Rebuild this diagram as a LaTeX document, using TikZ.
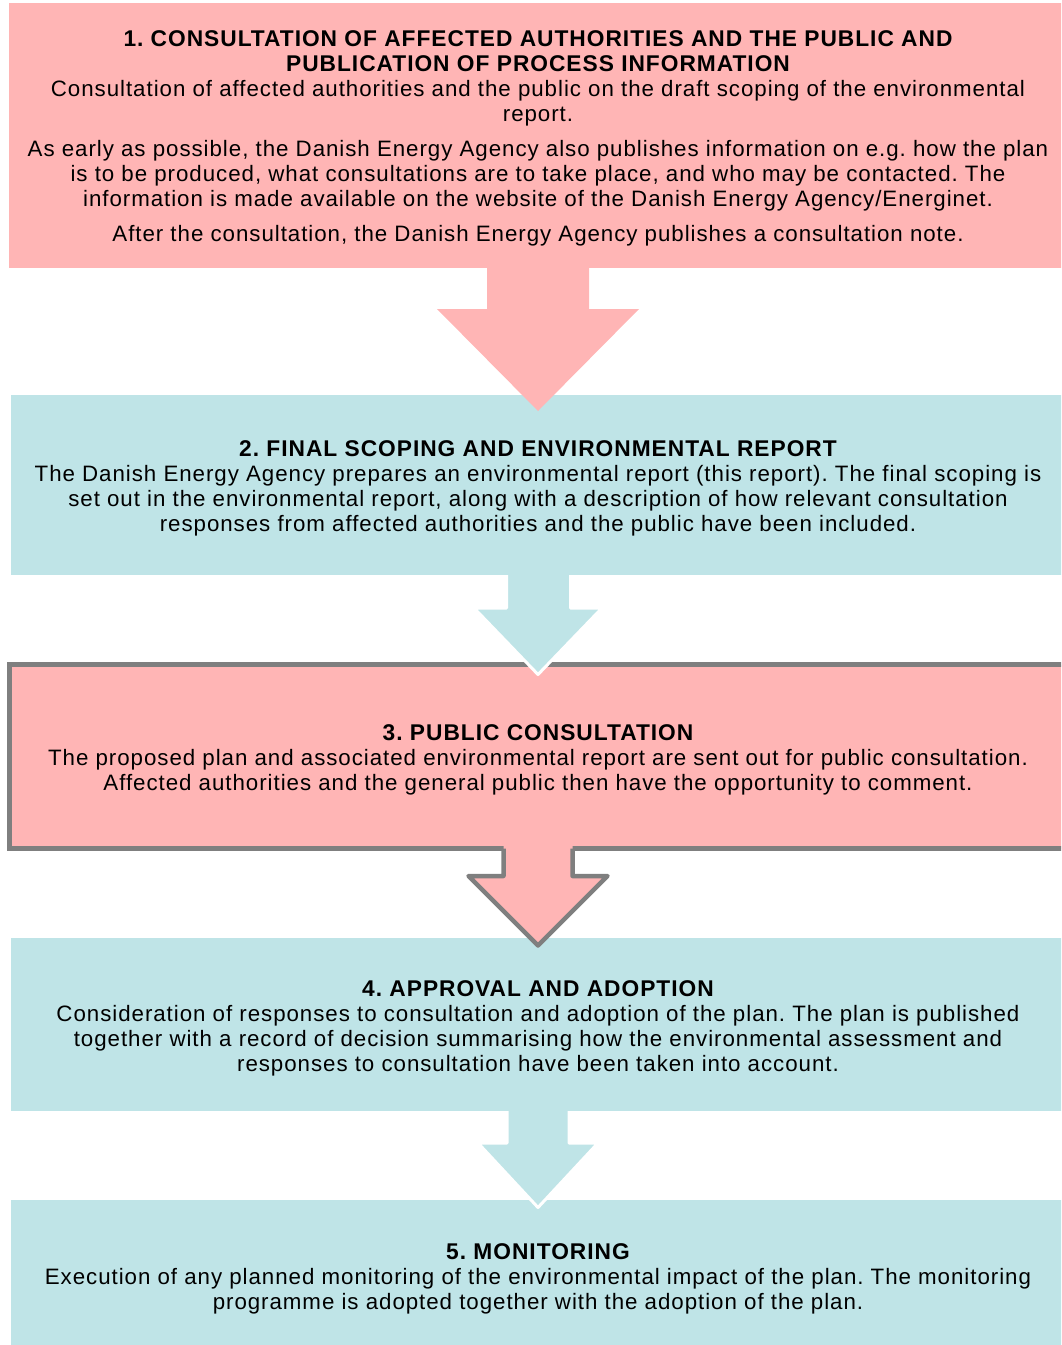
\documentclass[tikz,border=0pt]{standalone}
\usepackage{fontspec}
\setmainfont{Liberation Sans}[LetterSpace=4.3]
\definecolor{pinkfill}{HTML}{FFB5B5}
\definecolor{tealfill}{HTML}{BFE4E7}
\definecolor{bordergray}{HTML}{7F7F7F}
\newcommand\steptitle[1]{{\fontsize{22.75}{25}\selectfont\bfseries #1}}
\begin{document}
\begin{tikzpicture}[x=1pt,y=-1pt,
  box/.style={rectangle, inner sep=0pt, outer sep=0pt},
  txt/.style={inner sep=0pt, align=center,
    font=\fontsize{22.3}{25}\selectfont\frenchspacing},
  pinkbox/.style={box, fill=pinkfill},
  tealbox/.style={box, fill=tealfill},
  grayframe/.style={draw=bordergray, line width=5pt},
  pinkarrow/.style={fill=pinkfill},
  tealarrow/.style={fill=tealfill},
  whiteedge/.style={draw=white, line width=3pt, line join=round},
  grayedge/.style={draw=bordergray, line width=4.5pt, line join=round}]
\useasboundingbox (0,0) rectangle (1061,1345);
\clip (0,0) rectangle (1061,1345);

% Boxes 1 and 2
\node[pinkbox, minimum width=1058pt, minimum height=265pt] (b1) at (538,135.5) {};
\node[tealbox, minimum width=1054pt, minimum height=180pt] (b2) at (538,485) {};

% Arrow 1 -> 2
\fill[pinkarrow] (487,266) -- (487,309) -- (437,309) -- (538,411) -- (639,309) -- (589,309) -- (589,266) -- cycle;

\node[txt] (t1) at ([yshift=-3pt]b1.center)
 {\steptitle{1. CONSULTATION OF AFFECTED AUTHORITIES AND THE PUBLIC AND}\\
  \steptitle{PUBLICATION OF PROCESS INFORMATION}\\
  Consultation of affected authorities and the public on the draft scoping of the environmental\\
  report.\\[10pt]
  As early as possible, the Danish Energy Agency also publishes information on e.g. how the plan\\
  is to be produced, what consultations are to take place, and who may be contacted. The\\
  information is made available on the website of the Danish Energy Agency/Energinet.\\[10pt]
  After the consultation, the Danish Energy Agency publishes a consultation note.};

\node[txt] (t2) at ([yshift=-3pt]b2.center)
 {\steptitle{2. FINAL SCOPING AND ENVIRONMENTAL REPORT}\\
  The Danish Energy Agency prepares an environmental report (this report). The final scoping is\\
  set out in the environmental report, along with a description of how relevant consultation\\
  responses from affected authorities and the public have been included.};

% Box 3
\node[pinkbox, grayframe, minimum width=1057pt, minimum height=184pt] (b3) at (538,756.5) {};
\node[txt] (t3) at ([yshift=-3pt]b3.center)
 {\steptitle{3. PUBLIC CONSULTATION}\\
  The proposed plan and associated environmental report are sent out for public consultation.\\
  Affected authorities and the general public then have the opportunity to comment.};

% Arrow 2 -> 3
\fill[tealarrow] (506.5,573) -- (506.5,608) -- (474,608) -- (538,674.5) -- (602,608) -- (570.5,608) -- (570.5,573) -- cycle;
\draw[whiteedge] (506.5,575) -- (506.5,608) -- (474,608) -- (538,674.5) -- (602,608) -- (570.5,608) -- (570.5,575);

% Box 4
\node[tealbox, minimum width=1054pt, minimum height=173pt] (b4) at (538,1024.5) {};
\node[txt] (t4) at ([yshift=-3.5pt]b4.center)
 {\steptitle{4. APPROVAL AND ADOPTION}\\
  Consideration of responses to consultation and adoption of the plan. The plan is published\\
  together with a record of decision summarising how the environmental assessment and\\
  responses to consultation have been taken into account.};

% Arrow 3 -> 4
\fill[pinkarrow] (503.5,845) -- (503.5,876) -- (468.5,876) -- (538,945.5) -- (607.5,876) -- (572.5,876) -- (572.5,845) -- cycle;
\draw[grayedge] (503.5,848.5) -- (503.5,876) -- (468.5,876) -- (538,945.5) -- (607.5,876) -- (572.5,876) -- (572.5,848.5);

% Box 5
\node[tealbox, minimum width=1054pt, minimum height=151pt] (b5) at (538,1275.5) {};
\node[txt] (t5) at ([yshift=-3.5pt]b5.center)
 {\steptitle{5. MONITORING}\\
  Execution of any planned monitoring of the environmental impact of the plan. The monitoring\\
  programme is adopted together with the adoption of the plan.};

% Arrow 4 -> 5
\fill[tealarrow] (507,1109) -- (507,1143) -- (478,1143) -- (538,1207.5) -- (598,1143) -- (569,1143) -- (569,1109) -- cycle;
\draw[whiteedge] (507,1111) -- (507,1143) -- (478,1143) -- (538,1207.5) -- (598,1143) -- (569,1143) -- (569,1111);
\end{tikzpicture}
\end{document}
